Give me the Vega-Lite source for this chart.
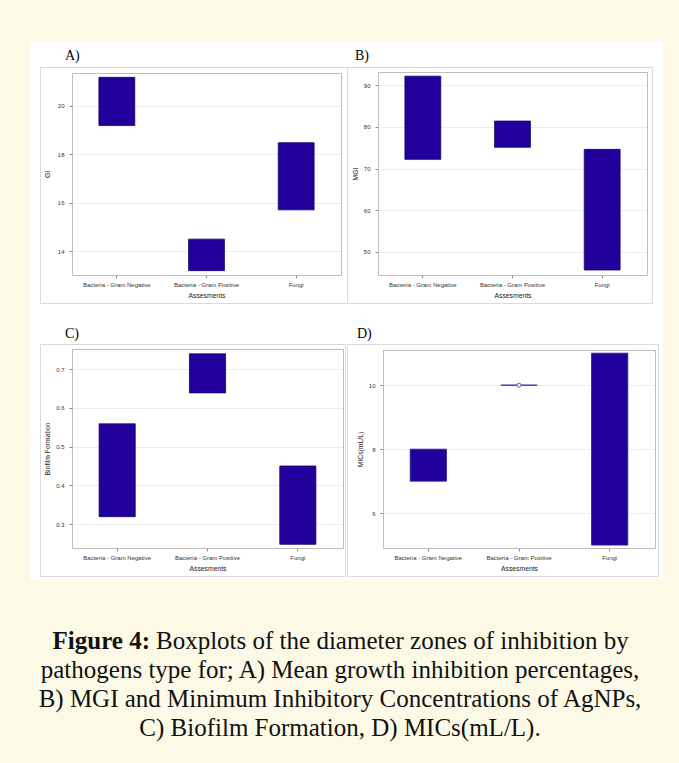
{
  "$schema": "https://vega.github.io/schema/vega-lite/v6.json",
  "background": "#fdf9e7",
  "padding": {"left": 30, "top": 42, "right": 16, "bottom": 11},
  "bounds": "flush",
  "columns": 2,
  "spacing": {"row": 0, "column": 0},
  "config": {
    "view": {"fill": "white", "stroke": null},
    "font": "Liberation Sans",
    "axis": {
      "labelFont": "Liberation Sans", "labelFontSize": 6, "labelColor": "#333333",
      "titleFont": "Liberation Sans", "titleFontSize": 6.8, "titleFontWeight": "normal", "titleColor": "#222222",
      "domainColor": "#bdbdbd", "tickColor": "#8a8a8a", "tickSize": 3, "gridColor": "#ececec"
    },
    "axisX": {"labelAngle": 0, "labelPadding": 3, "titleY": 20, "titleBaseline": "middle", "grid": false},
    "axisY": {"labelPadding": 5, "titleBaseline": "middle"},
    "title": {"font": "Liberation Serif", "fontSize": 14, "fontWeight": "normal", "anchor": "start", "frame": "group", "color": "#000000", "baseline": "alphabetic"}
  },
  "datasets": {
    "A": [
      {"group": "Bacteria - Gram Negative", "q1": 19.19, "q3": 21.18},
      {"group": "Bacteria - Gram Positive", "q1": 13.2, "q3": 14.5},
      {"group": "Fungi", "q1": 15.71, "q3": 18.48}
    ],
    "B": [
      {"group": "Bacteria - Gram Negative", "q1": 72.2, "q3": 92.2},
      {"group": "Bacteria - Gram Positive", "q1": 75.1, "q3": 81.4},
      {"group": "Fungi", "q1": 45.6, "q3": 74.6}
    ],
    "C": [
      {"group": "Bacteria - Gram Negative", "q1": 0.319, "q3": 0.559},
      {"group": "Bacteria - Gram Positive", "q1": 0.639, "q3": 0.74},
      {"group": "Fungi", "q1": 0.2475, "q3": 0.45}
    ],
    "D": [
      {"group": "Bacteria - Gram Negative", "q1": 7.0, "q3": 8.0},
      {"group": "Bacteria - Gram Positive", "q1": 10.0, "q3": 10.0},
      {"group": "Fungi", "q1": 5.0, "q3": 11.0}
    ],
    "Dmean": [
      {"group": "Bacteria - Gram Positive", "mean": 10.0}
    ],
    "caption": [
      {"line": 1, "part": "head", "text": "Figure 4:"},
      {"line": 1, "part": "body1", "text": "Boxplots of the diameter zones of inhibition by"},
      {"line": 2, "part": "body", "text": "pathogens type for; A) Mean growth inhibition percentages,"},
      {"line": 3, "part": "body", "text": "B) MGI and Minimum Inhibitory Concentrations of AgNPs,"},
      {"line": 4, "part": "body", "text": "C) Biofilm Formation, D) MICs(mL/L)."}
    ]
  },
  "concat": [
    {
      "width": 317, "height": 269,
      "title": {"text": "A)", "offset": -21, "dx": 35},
      "data": {"name": "A"},
      "layer": [
        {
          "mark": {"type": "bar", "width": {"band": 0.4}, "color": "#22009c", "stroke": "#16006e", "strokeWidth": 0.8},
          "encoding": {
            "x": {"field": "group", "type": "nominal", "sort": null,
              "scale": {"domain": ["Bacteria - Gram Negative", "Bacteria - Gram Positive", "Fungi"], "range": [42, 311], "paddingInner": 0, "paddingOuter": 0},
              "axis": {"orient": "bottom", "offset": -36, "title": "Assesments"}},
            "y": {"field": "q1", "type": "quantitative",
              "scale": {"domain": [13.02, 21.36], "range": [233, 31], "nice": false, "zero": false},
              "axis": {"orient": "left", "offset": -42, "title": "GI", "values": [14, 16, 18, 20], "grid": true, "titleX": -25}},
            "y2": {"field": "q3"}
          }
        },
        {
          "mark": {"type": "bar", "opacity": 0},
          "encoding": {
            "x": {"field": "group", "type": "nominal", "sort": null,
              "scale": {"domain": ["Bacteria - Gram Negative", "Bacteria - Gram Positive", "Fungi"], "range": [42, 311], "paddingInner": 0, "paddingOuter": 0},
              "axis": {"orient": "top", "offset": -31, "labels": false, "ticks": false, "title": null, "grid": false}},
            "y": {"field": "q1", "type": "quantitative",
              "scale": {"domain": [13.02, 21.36], "range": [233, 31], "nice": false, "zero": false},
              "axis": {"orient": "right", "offset": -6, "labels": false, "ticks": false, "title": null, "grid": false}},
            "y2": {"field": "q3"}
          }
        },
        {
          "mark": {"type": "bar", "opacity": 0},
          "encoding": {
            "x": {"field": "group", "type": "nominal", "sort": null,
              "scale": {"domain": ["Bacteria - Gram Negative", "Bacteria - Gram Positive", "Fungi"], "range": [10, 317], "paddingInner": 0, "paddingOuter": 0},
              "axis": {"orient": "bottom", "offset": -8, "labels": false, "ticks": false, "title": null, "grid": false, "domainColor": "#dadada"}},
            "y": {"field": "q1", "type": "quantitative",
              "scale": {"domain": [13.02, 21.36], "range": [261, 25], "nice": false, "zero": false},
              "axis": {"orient": "left", "offset": -10, "labels": false, "ticks": false, "title": null, "grid": false, "domainColor": "#dadada"}},
            "y2": {"field": "q3"}
          }
        },
        {
          "mark": {"type": "bar", "opacity": 0},
          "encoding": {
            "x": {"field": "group", "type": "nominal", "sort": null,
              "scale": {"domain": ["Bacteria - Gram Negative", "Bacteria - Gram Positive", "Fungi"], "range": [10, 317], "paddingInner": 0, "paddingOuter": 0},
              "axis": {"orient": "top", "offset": -25, "labels": false, "ticks": false, "title": null, "grid": false, "domainColor": "#dadada"}},
            "y": {"field": "q1", "type": "quantitative",
              "scale": {"domain": [13.02, 21.36], "range": [261, 25], "nice": false, "zero": false},
              "axis": {"orient": "right", "offset": 0, "labels": false, "ticks": false, "title": null, "grid": false, "domainColor": "#dadada"}},
            "y2": {"field": "q3"}
          }
        }
      ],
      "resolve": {"scale": {"x": "independent", "y": "independent"}, "axis": {"x": "independent", "y": "independent"}}
    },
    {
      "width": 316, "height": 269,
      "title": {"text": "B)", "offset": -21, "dx": 8},
      "data": {"name": "B"},
      "layer": [
        {
          "mark": {"type": "bar", "width": {"band": 0.4}, "color": "#22009c", "stroke": "#16006e", "strokeWidth": 0.8},
          "encoding": {
            "x": {"field": "group", "type": "nominal", "sort": null,
              "scale": {"domain": ["Bacteria - Gram Negative", "Bacteria - Gram Positive", "Fungi"], "range": [31, 300], "paddingInner": 0, "paddingOuter": 0},
              "axis": {"orient": "bottom", "offset": -36, "title": "Assesments"}},
            "y": {"field": "q1", "type": "quantitative",
              "scale": {"domain": [44.4, 93.2], "range": [233, 30], "nice": false, "zero": false},
              "axis": {"orient": "left", "offset": -31, "title": "MGI", "values": [50, 60, 70, 80, 90], "grid": true, "titleX": -23}},
            "y2": {"field": "q3"}
          }
        },
        {
          "mark": {"type": "bar", "opacity": 0},
          "encoding": {
            "x": {"field": "group", "type": "nominal", "sort": null,
              "scale": {"domain": ["Bacteria - Gram Negative", "Bacteria - Gram Positive", "Fungi"], "range": [31, 300], "paddingInner": 0, "paddingOuter": 0},
              "axis": {"orient": "top", "offset": -30, "labels": false, "ticks": false, "title": null, "grid": false}},
            "y": {"field": "q1", "type": "quantitative",
              "scale": {"domain": [44.4, 93.2], "range": [233, 30], "nice": false, "zero": false},
              "axis": {"orient": "right", "offset": -16, "labels": false, "ticks": false, "title": null, "grid": false}},
            "y2": {"field": "q3"}
          }
        },
        {
          "mark": {"type": "bar", "opacity": 0},
          "encoding": {
            "x": {"field": "group", "type": "nominal", "sort": null,
              "scale": {"domain": ["Bacteria - Gram Negative", "Bacteria - Gram Positive", "Fungi"], "range": [0, 305], "paddingInner": 0, "paddingOuter": 0},
              "axis": {"orient": "bottom", "offset": -8, "labels": false, "ticks": false, "title": null, "grid": false, "domainColor": "#dadada"}},
            "y": {"field": "q1", "type": "quantitative",
              "scale": {"domain": [44.4, 93.2], "range": [261, 25], "nice": false, "zero": false},
              "axis": {"orient": "left", "offset": 0, "labels": false, "ticks": false, "title": null, "grid": false, "domainColor": "#dadada"}},
            "y2": {"field": "q3"}
          }
        },
        {
          "mark": {"type": "bar", "opacity": 0},
          "encoding": {
            "x": {"field": "group", "type": "nominal", "sort": null,
              "scale": {"domain": ["Bacteria - Gram Negative", "Bacteria - Gram Positive", "Fungi"], "range": [0, 305], "paddingInner": 0, "paddingOuter": 0},
              "axis": {"orient": "top", "offset": -25, "labels": false, "ticks": false, "title": null, "grid": false, "domainColor": "#dadada"}},
            "y": {"field": "q1", "type": "quantitative",
              "scale": {"domain": [44.4, 93.2], "range": [261, 25], "nice": false, "zero": false},
              "axis": {"orient": "right", "offset": -11, "labels": false, "ticks": false, "title": null, "grid": false, "domainColor": "#dadada"}},
            "y2": {"field": "q3"}
          }
        }
      ],
      "resolve": {"scale": {"x": "independent", "y": "independent"}, "axis": {"x": "independent", "y": "independent"}}
    },
    {
      "width": 317, "height": 269,
      "title": {"text": "C)", "offset": -30, "dx": 35},
      "data": {"name": "C"},
      "layer": [
        {
          "mark": {"type": "bar", "width": {"band": 0.4}, "color": "#22009c", "stroke": "#16006e", "strokeWidth": 0.8},
          "encoding": {
            "x": {"field": "group", "type": "nominal", "sort": null,
              "scale": {"domain": ["Bacteria - Gram Negative", "Bacteria - Gram Positive", "Fungi"], "range": [42, 313], "paddingInner": 0, "paddingOuter": 0},
              "axis": {"orient": "bottom", "offset": -32, "title": "Assesments"}},
            "y": {"field": "q1", "type": "quantitative",
              "scale": {"domain": [0.238, 0.7525], "range": [237, 38], "nice": false, "zero": false},
              "axis": {"orient": "left", "offset": -42, "title": "Biofilm Formation", "values": [0.3, 0.4, 0.5, 0.6, 0.7], "format": ".1f", "grid": true, "titleX": -25}},
            "y2": {"field": "q3"}
          }
        },
        {
          "mark": {"type": "bar", "opacity": 0},
          "encoding": {
            "x": {"field": "group", "type": "nominal", "sort": null,
              "scale": {"domain": ["Bacteria - Gram Negative", "Bacteria - Gram Positive", "Fungi"], "range": [42, 313], "paddingInner": 0, "paddingOuter": 0},
              "axis": {"orient": "top", "offset": -38, "labels": false, "ticks": false, "title": null, "grid": false}},
            "y": {"field": "q1", "type": "quantitative",
              "scale": {"domain": [0.238, 0.7525], "range": [237, 38], "nice": false, "zero": false},
              "axis": {"orient": "right", "offset": -4, "labels": false, "ticks": false, "title": null, "grid": false}},
            "y2": {"field": "q3"}
          }
        },
        {
          "mark": {"type": "bar", "opacity": 0},
          "encoding": {
            "x": {"field": "group", "type": "nominal", "sort": null,
              "scale": {"domain": ["Bacteria - Gram Negative", "Bacteria - Gram Positive", "Fungi"], "range": [10, 315], "paddingInner": 0, "paddingOuter": 0},
              "axis": {"orient": "bottom", "offset": -4, "labels": false, "ticks": false, "title": null, "grid": false, "domainColor": "#dadada"}},
            "y": {"field": "q1", "type": "quantitative",
              "scale": {"domain": [0.238, 0.7525], "range": [265, 33], "nice": false, "zero": false},
              "axis": {"orient": "left", "offset": -10, "labels": false, "ticks": false, "title": null, "grid": false, "domainColor": "#dadada"}},
            "y2": {"field": "q3"}
          }
        },
        {
          "mark": {"type": "bar", "opacity": 0},
          "encoding": {
            "x": {"field": "group", "type": "nominal", "sort": null,
              "scale": {"domain": ["Bacteria - Gram Negative", "Bacteria - Gram Positive", "Fungi"], "range": [10, 315], "paddingInner": 0, "paddingOuter": 0},
              "axis": {"orient": "top", "offset": -33, "labels": false, "ticks": false, "title": null, "grid": false, "domainColor": "#dadada"}},
            "y": {"field": "q1", "type": "quantitative",
              "scale": {"domain": [0.238, 0.7525], "range": [265, 33], "nice": false, "zero": false},
              "axis": {"orient": "right", "offset": -2, "labels": false, "ticks": false, "title": null, "grid": false, "domainColor": "#dadada"}},
            "y2": {"field": "q3"}
          }
        }
      ],
      "resolve": {"scale": {"x": "independent", "y": "independent"}, "axis": {"x": "independent", "y": "independent"}}
    },
    {
      "width": 316, "height": 269,
      "title": {"text": "D)", "offset": -30, "dx": 10},
      "data": {"name": "D"},
      "layer": [
        {
          "mark": {"type": "bar", "width": {"band": 0.4}, "color": "#22009c", "stroke": "#2a1aa0", "strokeWidth": 0.8},
          "encoding": {
            "x": {"field": "group", "type": "nominal", "sort": null,
              "scale": {"domain": ["Bacteria - Gram Negative", "Bacteria - Gram Positive", "Fungi"], "range": [36, 308], "paddingInner": 0, "paddingOuter": 0},
              "axis": {"orient": "bottom", "offset": -32, "title": "Assesments"}},
            "y": {"field": "q1", "type": "quantitative",
              "scale": {"domain": [4.91, 11.1], "range": [237, 39], "nice": false, "zero": false},
              "axis": {"orient": "left", "offset": -36, "title": "MICs(mL/L)", "values": [6, 8, 10], "grid": true, "titleX": -23}},
            "y2": {"field": "q3"}
          }
        },
        {
          "mark": {"type": "bar", "opacity": 0},
          "encoding": {
            "x": {"field": "group", "type": "nominal", "sort": null,
              "scale": {"domain": ["Bacteria - Gram Negative", "Bacteria - Gram Positive", "Fungi"], "range": [36, 308], "paddingInner": 0, "paddingOuter": 0},
              "axis": {"orient": "top", "offset": -39, "labels": false, "ticks": false, "title": null, "grid": false}},
            "y": {"field": "q1", "type": "quantitative",
              "scale": {"domain": [4.91, 11.1], "range": [237, 39], "nice": false, "zero": false},
              "axis": {"orient": "right", "offset": -8, "labels": false, "ticks": false, "title": null, "grid": false}},
            "y2": {"field": "q3"}
          }
        },
        {
          "mark": {"type": "bar", "opacity": 0},
          "encoding": {
            "x": {"field": "group", "type": "nominal", "sort": null,
              "scale": {"domain": ["Bacteria - Gram Negative", "Bacteria - Gram Positive", "Fungi"], "range": [0, 311], "paddingInner": 0, "paddingOuter": 0},
              "axis": {"orient": "bottom", "offset": -4, "labels": false, "ticks": false, "title": null, "grid": false, "domainColor": "#dadada"}},
            "y": {"field": "q1", "type": "quantitative",
              "scale": {"domain": [4.91, 11.1], "range": [265, 33], "nice": false, "zero": false},
              "axis": {"orient": "left", "offset": 0, "labels": false, "ticks": false, "title": null, "grid": false, "domainColor": "#dadada"}},
            "y2": {"field": "q3"}
          }
        },
        {
          "mark": {"type": "bar", "opacity": 0},
          "encoding": {
            "x": {"field": "group", "type": "nominal", "sort": null,
              "scale": {"domain": ["Bacteria - Gram Negative", "Bacteria - Gram Positive", "Fungi"], "range": [0, 311], "paddingInner": 0, "paddingOuter": 0},
              "axis": {"orient": "top", "offset": -33, "labels": false, "ticks": false, "title": null, "grid": false, "domainColor": "#dadada"}},
            "y": {"field": "q1", "type": "quantitative",
              "scale": {"domain": [4.91, 11.1], "range": [265, 33], "nice": false, "zero": false},
              "axis": {"orient": "right", "offset": -5, "labels": false, "ticks": false, "title": null, "grid": false, "domainColor": "#dadada"}},
            "y2": {"field": "q3"}
          }
        },
        {
          "data": {"name": "Dmean"},
          "mark": {"type": "point", "shape": "circle", "filled": false, "fill": "white", "stroke": "#3b3bb5", "strokeWidth": 0.8, "size": 16, "opacity": 1},
          "encoding": {
            "x": {"field": "group", "type": "nominal",
              "scale": {"domain": ["Bacteria - Gram Negative", "Bacteria - Gram Positive", "Fungi"], "range": [36, 308], "paddingInner": 0, "paddingOuter": 0},
              "axis": null},
            "y": {"field": "mean", "type": "quantitative",
              "scale": {"domain": [4.91, 11.1], "range": [237, 39], "nice": false, "zero": false},
              "axis": null}
          }
        }
      ],
      "resolve": {"scale": {"x": "independent", "y": "independent"}, "axis": {"x": "independent", "y": "independent"}}
    },
    {
      "width": 317, "height": 172,
      "view": {"fill": null, "stroke": null},
      "data": {"name": "caption"},
      "layer": [
        {
          "transform": [{"filter": "datum.part == 'head'"}],
          "mark": {"type": "text", "font": "Liberation Serif", "fontSize": 25, "fontWeight": "bold", "align": "right", "baseline": "alphabetic", "color": "#111111"},
          "encoding": {
            "x": {"value": 120},
            "y": {"field": "line", "type": "quantitative", "scale": {"domain": [1, 4], "range": [69, 156]}, "axis": null},
            "text": {"field": "text"}
          }
        },
        {
          "transform": [{"filter": "datum.part == 'body1'"}],
          "mark": {"type": "text", "font": "Liberation Serif", "fontSize": 25, "align": "left", "baseline": "alphabetic", "color": "#111111"},
          "encoding": {
            "x": {"value": 126},
            "y": {"field": "line", "type": "quantitative", "scale": {"domain": [1, 4], "range": [69, 156]}, "axis": null},
            "text": {"field": "text"}
          }
        },
        {
          "transform": [{"filter": "datum.part == 'body'"}],
          "mark": {"type": "text", "font": "Liberation Serif", "fontSize": 25, "align": "center", "baseline": "alphabetic", "color": "#111111"},
          "encoding": {
            "x": {"value": 310},
            "y": {"field": "line", "type": "quantitative", "scale": {"domain": [1, 4], "range": [69, 156]}, "axis": null},
            "text": {"field": "text"}
          }
        }
      ]
    }
  ]
}
